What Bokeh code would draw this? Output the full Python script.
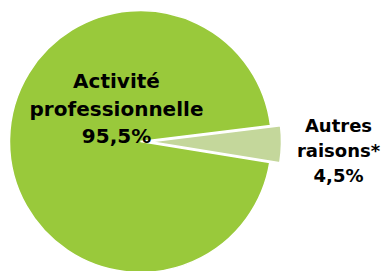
import math
from bokeh.plotting import figure
from bokeh.models import ColumnDataSource
from bokeh.core.properties import value
from bokeh.embed import file_html
from bokeh.resources import INLINE

# ---- data ----
categories = ["Activité professionnelle", "Autres raisons*"]
label_lines = [["Activité", "professionnelle"], ["Autres", "raisons*"]]
shares = [95.5, 4.5]
colors = ["#99C93B", "#C4D79B"]

# ---- layout (pixel-like data space) ----
W, H = 381, 271
p = figure(width=W, height=H, x_range=(0, W), y_range=(0, H),
           output_backend="svg", toolbar_location=None,
           x_axis_location=None, y_axis_location=None,
           min_border=0, outline_line_color=None)
p.grid.visible = False
p.background_fill_color = "white"
p.border_fill_color = "white"

cx, cy, r = 140, 130, 131
start = math.radians(7.0)
explode = [0, 10]

xs, ys, sa, ea = [], [], [], []
a = start
for s, ex in zip(shares, explode):
    span = s / 100 * 2 * math.pi
    mid = a + span / 2
    xs.append(cx + ex * math.cos(mid))
    ys.append(cy + ex * math.sin(mid))
    sa.append(a)
    ea.append(a + span)
    a += span

src = ColumnDataSource(dict(x=xs, y=ys, start=sa, end=ea, color=colors, cat=categories))
p.wedge(x="x", y="y", radius=r, start_angle="start", end_angle="end",
        fill_color="color", line_color="white", line_width=1.5, source=src)

# ---- labels ----
label_pos = [(116, [191, 163, 136], "20px"), (338, [146, 121, 96], "18px")]
for (lx, lys, fs), lines, s in zip(label_pos, label_lines, shares):
    texts = lines + [("%.1f%%" % s).replace(".", ",")]
    p.text(x=[lx] * len(texts), y=lys, text=texts,
           text_align="center", text_baseline="alphabetic",
           text_font=value("DejaVu Sans"), text_font_style="bold",
           text_font_size=fs, text_color="#000000")

open("out.html", "w").write(file_html(p, INLINE))
